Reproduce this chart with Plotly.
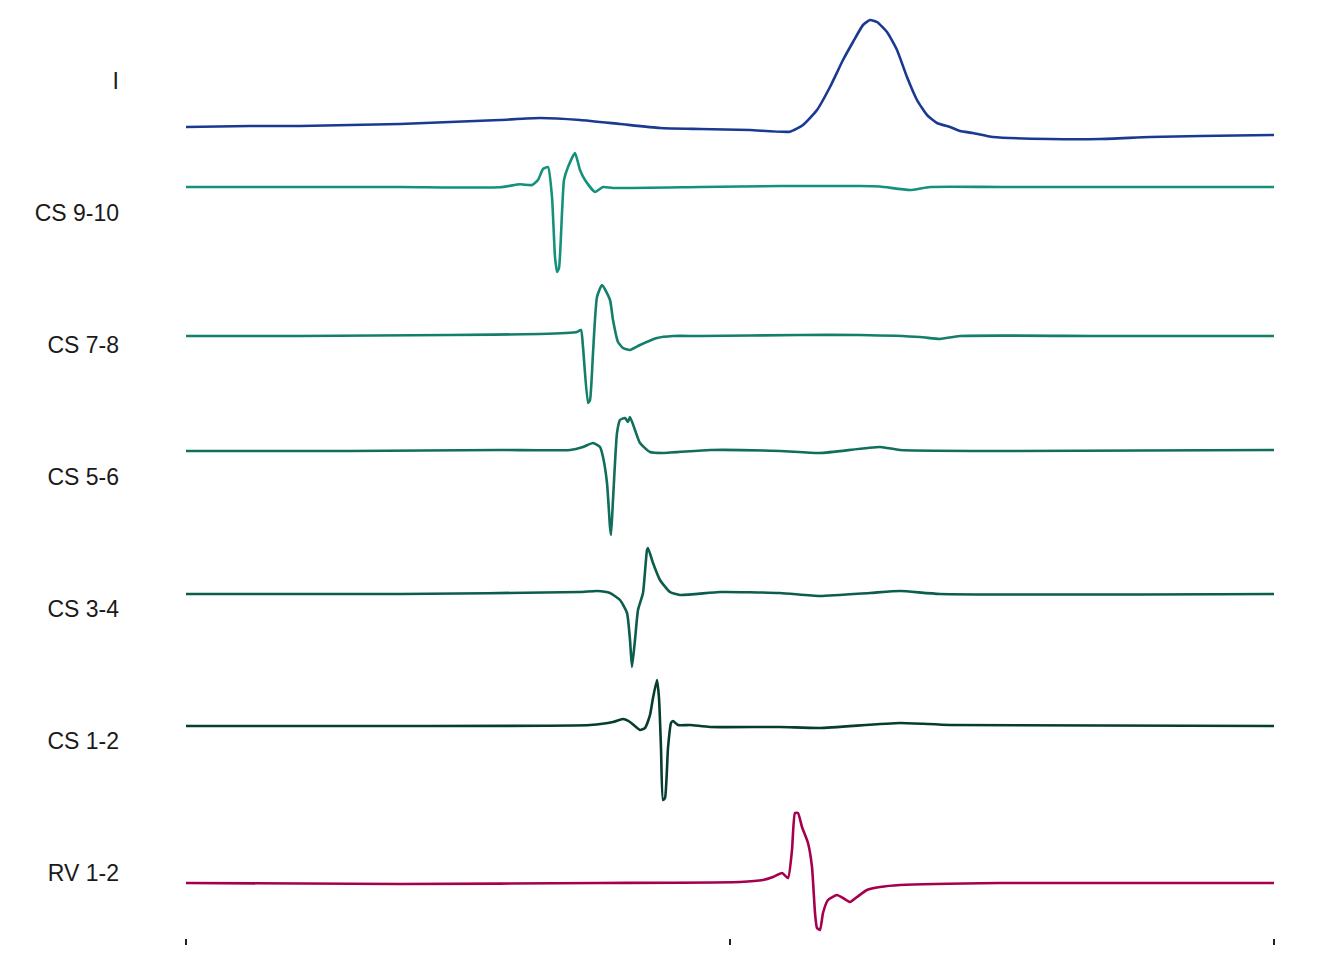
import plotly.graph_objects as go

# channel labels (top to bottom) and colours
channels = ["I", "CS 9-10", "CS 7-8", "CS 5-6", "CS 3-4", "CS 1-2", "RV 1-2"]
colors = ["#1a3a92", "#14917a", "#137e69", "#106e5a", "#0c5d4b", "#073d30", "#a5004e"]
spacing = 1.32  # mV between channel label positions

# time (ms) and amplitude (mV, relative to each channel's label position)
t_I = [0, 32, 57, 82, 107, 132, 157, 177, 197, 217, 237, 257, 282, 302, 308.5, 315.5, 322, 328.5,
       333.5, 338.5, 342, 345.5, 350.5, 355.5, 360.5, 365.5, 370.5, 375.5, 382, 387, 393.5, 403.5,
       432, 457, 482, 507, 544]
v_I = [-0.46, -0.45, -0.45, -0.44, -0.43, -0.41, -0.39, -0.37, -0.39, -0.43, -0.47, -0.48, -0.49,
       -0.507, -0.44, -0.29, -0.06, 0.21, 0.39, 0.56, 0.61, 0.59, 0.49, 0.31, 0.04, -0.19, -0.34,
       -0.42, -0.46, -0.50, -0.52, -0.56, -0.58, -0.58, -0.56, -0.55, -0.54]

t_CS910 = [0, 57, 107, 157, 167, 173, 176, 178.5, 181, 183, 184.5, 185.5, 186.5, 188, 189, 191,
           194.5, 197, 199.5, 204.5, 208.5, 213.5, 257, 297, 337, 347, 362, 372, 407, 544]
v_CS910 = [0.26, 0.26, 0.26, 0.257, 0.287, 0.28, 0.33, 0.44, 0.46, 0.16, -0.44, -0.59, -0.55, 0.00,
           0.33, 0.46, 0.60, 0.43, 0.33, 0.21, 0.26, 0.25, 0.26, 0.27, 0.27, 0.265, 0.23, 0.26, 0.26,
           0.26]

t_CS78 = [0, 57, 132, 177, 195.5, 197.5, 198.5, 201, 202, 203.5, 205.5, 208, 212, 213.5, 216, 218.5,
          222, 227, 235.5, 243.5, 257, 307, 337, 367, 377, 387, 457, 544]
v_CS78 = [0.09, 0.09, 0.10, 0.11, 0.13, 0.15, -0.02, -0.58, -0.55, -0.08, 0.48, 0.60, 0.45, 0.25,
          0.03, -0.03, -0.05, 0.00, 0.07, 0.09, 0.09, 0.10, 0.10, 0.08, 0.06, 0.09, 0.09, 0.09]

t_CS56 = [0, 82, 157, 192, 198.5, 203.5, 207, 208.5, 210.5, 212, 212.5, 213.5, 215.5, 217, 219.5,
          221, 222, 224.5, 227, 232, 238.5, 262, 297, 317, 347, 357, 407, 544]
v_CS56 = [0.26, 0.26, 0.27, 0.27, 0.30, 0.34, 0.30, 0.20, -0.06, -0.50, -0.58, -0.23, 0.44, 0.57,
          0.59, 0.55, 0.60, 0.47, 0.34, 0.25, 0.24, 0.27, 0.26, 0.24, 0.30, 0.27, 0.26, 0.27]

t_CS34 = [0, 107, 197, 205.5, 212, 217, 220.5, 222, 223, 224.5, 226, 228.5, 230.5, 231, 233.5, 237,
          242, 247, 267, 297, 317, 342, 357, 377, 544]
v_CS34 = [0.15, 0.15, 0.17, 0.18, 0.16, 0.09, -0.04, -0.31, -0.58, -0.31, -0.01, 0.16, 0.59, 0.61,
          0.46, 0.29, 0.17, 0.14, 0.17, 0.16, 0.13, 0.16, 0.18, 0.15, 0.15]

t_CS12 = [0, 107, 202, 213.5, 218.5, 222, 227, 229.5, 232, 233.5, 235.5, 236.5, 237.5, 238.5, 239.5,
          241, 242.5, 243.5, 246, 252, 262, 297, 317, 357, 382, 544]
v_CS12 = [0.15, 0.15, 0.16, 0.19, 0.22, 0.19, 0.11, 0.13, 0.26, 0.43, 0.61, 0.43, -0.07, -0.59,
          -0.57, -0.07, 0.18, 0.20, 0.16, 0.16, 0.14, 0.14, 0.13, 0.18, 0.16, 0.15]

t_RV12 = [0, 107, 207, 277, 288.5, 293.5, 298, 301, 303, 304.5, 306, 308, 311, 313, 314.5, 315.5,
          317, 318.5, 321, 325.5, 328.5, 332, 335.5, 340.5, 347, 357, 407, 544]
v_RV12 = [-0.10, -0.11, -0.10, -0.09, -0.07, -0.04, 0.00, -0.05, 0.23, 0.60, 0.60, 0.46, 0.30, 0.06,
          -0.40, -0.55, -0.57, -0.40, -0.27, -0.22, -0.25, -0.29, -0.24, -0.17, -0.14, -0.12, -0.10,
          -0.10]

times = [t_I, t_CS910, t_CS78, t_CS56, t_CS34, t_CS12, t_RV12]
values = [v_I, v_CS910, v_CS78, v_CS56, v_CS34, v_CS12, v_RV12]
x_ticks = [0, 272, 544]

n = len(channels)
offsets = [(n - 1 - i) * spacing for i in range(n)]

fig = go.Figure()
for name, col, t, v, off in zip(channels, colors, times, values, offsets):
    fig.add_trace(go.Scatter(x=t, y=[off + a for a in v], mode="lines", name=name,
                             line=dict(color=col, width=2.6, shape="spline", smoothing=0.5),
                             showlegend=False))

fig.update_layout(
    width=1344, height=960,
    margin=dict(l=186, r=70, t=10, b=22),
    paper_bgcolor="white", plot_bgcolor="white",
    font=dict(family="Liberation Sans, Arial, sans-serif", size=23, color="#1a1a1a"),
)
fig.update_xaxes(range=[0, 544], tickvals=x_ticks, showticklabels=False, ticks="outside",
                 ticklen=6, tickwidth=2, tickcolor="#222", showgrid=False, zeroline=False,
                 showline=False)
fig.update_yaxes(range=[-0.65, 8.63], tickvals=offsets, ticktext=channels, ticks="",
                 showgrid=False, zeroline=False, showline=False, ticklabelstandoff=66)

fig.write_html("out.html")
